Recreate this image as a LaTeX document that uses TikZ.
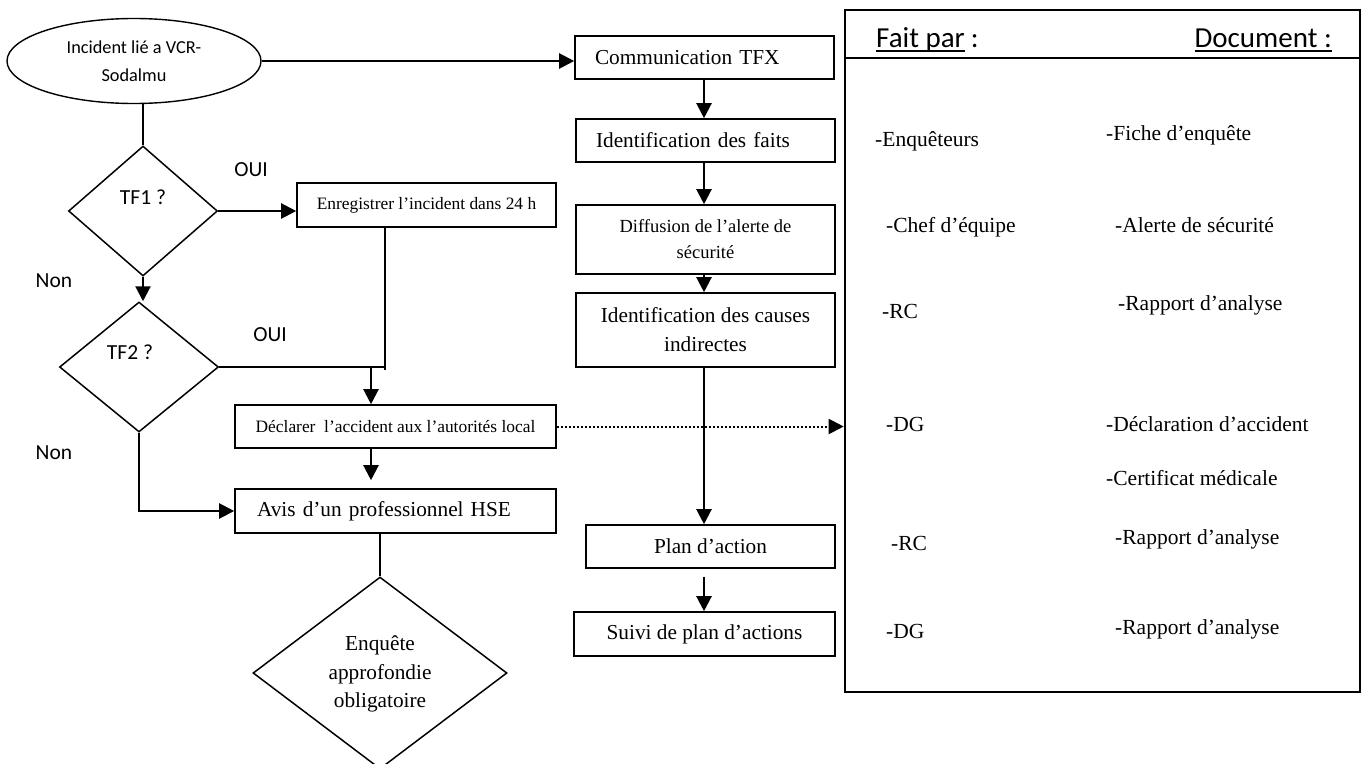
\documentclass[tikz,border=0pt]{standalone}
\usepackage{fontspec}
\setmainfont{Liberation Serif}
\newfontfamily\calib{Carlito}
\usetikzlibrary{shapes.geometric,arrows.meta}
% underline drawn through the descenders, as a word processor does
\newcommand\hdrline[1]{\setbox0\hbox{#1}\rlap{\rule[-4.5pt]{\wd0}{1.8pt}}\box0}
\begin{document}
\begin{tikzpicture}[x=1pt,y=-1pt,
  tnr/.style={font=\fontsize{21.3}{29}\selectfont},
  box/.style={draw, line width=1.6pt, rectangle, inner sep=0pt, align=center, tnr},
  lbox/.style={box, align=left, inner xsep=20pt},
  dia/.style={diamond, draw, line width=1.5pt, inner sep=0pt},
  lbl/.style={font=\calib\fontsize{21.5}{26}\selectfont, inner sep=0pt},
  hdr/.style={font=\calib\fontsize{29}{34}\selectfont, inner sep=0pt},
  entry/.style={font=\fontsize{21.5}{26}\selectfont, inner sep=0pt, anchor=west,
                text height=0.7em, text depth=0.2em},
  ln/.style={line width=1.7pt},
  arr/.style={line width=2.2pt, -{Triangle[length=15pt,width=15pt]}},
  dotarr/.style={line width=2pt, dash pattern=on 2pt off 2pt, -{Triangle[length=15pt,width=15pt]}}]
\useasboundingbox (0,0) rectangle (1368,763);

% left branch
\node[ellipse, draw, line width=1.4pt, minimum width=254pt, minimum height=85pt, inner sep=0pt,
      align=center, font=\calib\fontsize{18.3}{28}\selectfont] (inc) at (134,61)
      {Incident lié a VCR-\\Sodalmu};
\node[dia, minimum width=149pt, minimum height=130pt] (tf1) at (143,211) {};
\node[lbl] (tf1t) at (143,197) {TF1 ?};
\node[dia, minimum width=159pt, minimum height=130pt] (tf2) at (139,367) {};
\node[lbl] (tf2t) at (130,352) {TF2 ?};
\node[lbl] (oui1) at (251,170) {OUI};
\node[lbl] (oui2) at (270,335) {OUI};
\node[lbl] (non1) at (54,281) {Non};
\node[lbl] (non2) at (54,453) {Non};

\node[box, minimum width=259pt, minimum height=44pt, font=\fontsize{17.4}{22}\selectfont] (enr) at (426.5,205)
      {Enregistrer l’incident dans 24 h};
\node[box, minimum width=321pt, minimum height=43pt, font=\fontsize{17.4}{22}\selectfont] (decl) at (395.5,426.5)
      {Déclarer\ \ l’accident aux l’autorités local};
\node[lbox, text width=277pt, inner xsep=22pt, minimum height=44pt] (avis) at (395.5,511)
      {Avis d’un professionnel HSE};
\node[dia, minimum width=254pt, minimum height=192pt] (enq) at (380,673) {};
\node[tnr, align=center, inner sep=0pt, font=\fontsize{21.3}{28.5}\selectfont] (enqt) at (380,674)
      {Enquête\\approfondie\\obligatoire};

% middle column
\node[lbox, text width=219pt, minimum height=43pt] (comm) at (704.5,57.5) {Communication TFX};
\node[lbox, text width=219pt, minimum height=43pt] (faits) at (705.5,140.5) {Identification des faits};
\node[box, minimum width=259pt, minimum height=69pt, font=\fontsize{18.5}{26}\selectfont] (diff) at (705.5,239.5)
      {Diffusion de l’alerte de\\sécurité};
\node[box, minimum width=259pt, minimum height=74pt] (causes) at (705.5,330)
      {Identification des causes\\indirectes};
\node[box, minimum width=249pt, minimum height=43pt] (plan) at (710.5,546.5) {Plan d’action};
\node[box, minimum width=261pt, minimum height=44pt] (suivi) at (704.5,634) {Suivi de plan d’actions};

% right panel
\node[draw, line width=2.6pt, minimum width=515pt, minimum height=682pt, inner sep=0pt] (panel) at (1102.5,351) {};
\coordinate (hl) at (0,58);
\draw[line width=2pt] (panel.west |- hl) -- (panel.east |- hl);
\node[hdr, anchor=west] (fp) at (876,40) {\hdrline{Fait par}\hspace{6pt}:};
\node[hdr, anchor=east] (doc) at (1332,40) {\hdrline{Document :}};

\node[entry] (p1) at (875,144) {-Enquêteurs};
\node[entry] (d1) at (1106,138) {-Fiche d’enquête};
\node[entry] (p2) at (886,230) {-Chef d’équipe};
\node[entry] (d2) at (1115,230) {-Alerte de sécurité};
\node[entry] (p3) at (882,316) {-RC};
\node[entry] (d3) at (1118,308) {-Rapport d’analyse};
\node[entry] (p4) at (886,429) {-DG};
\node[entry] (d4) at (1106,429) {-Déclaration d’accident};
\node[entry] (d5) at (1106,483) {-Certificat médicale};
\node[entry] (p5) at (891,548) {-RC};
\node[entry] (d6) at (1115,542) {-Rapport d’analyse};
\node[entry] (p6) at (886,636) {-DG};
\node[entry] (d7) at (1115,632) {-Rapport d’analyse};

% connectors
\coordinate (j1) at (385,370);
\coordinate (j2) at (371,367);
\coordinate (mid) at (704,0);
\draw[arr] (inc.east) -- (inc.east -| comm.west);
\draw[ln] (inc.south -| tf1.north) -- (tf1.north);
\draw[arr] (tf1.east) -- (tf1.east -| enr.west);
\draw[arr] (tf1.south) -- (tf1.south |- tf2.north);
\draw[ln] (enr.south -| j1) -- (j1);
\draw[ln] (tf2.east) -- (tf2.east -| j1);
\draw[arr] (j2) -- (j2 |- decl.north);
\draw[arr, shorten >=8pt] (decl.south -| j2) -- (j2 |- avis.north);
\draw[arr] (tf2.south) |- (avis.west);
\draw[ln] (avis.south -| enq.north) -- (enq.north);
\draw[dotarr] (decl.east) -- (decl.east -| panel.west);

\draw[arr] (comm.south -| mid) -- (faits.north -| mid);
\draw[arr] (faits.south -| mid) -- (diff.north -| mid);
\draw[arr] (diff.south -| mid) -- (causes.north -| mid);
\draw[arr] (causes.south -| mid) -- (plan.north -| mid);
\draw[arr, shorten <=8pt] (plan.south -| mid) -- (suivi.north -| mid);
\end{tikzpicture}
\end{document}
